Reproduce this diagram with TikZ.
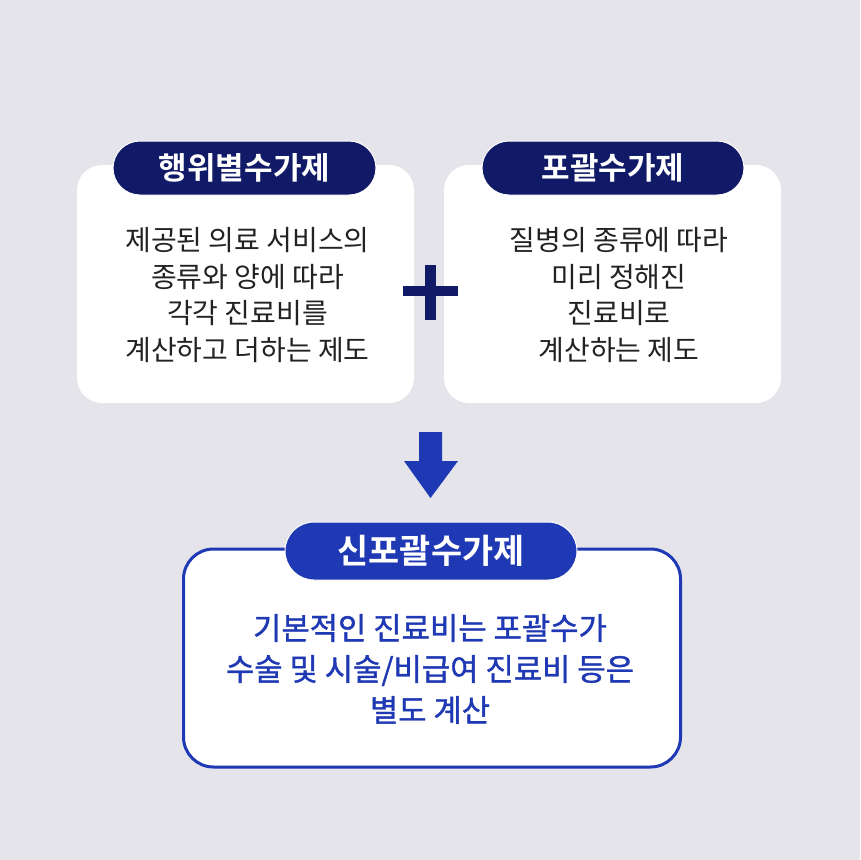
\documentclass[tikz,border=0pt]{standalone}
\usepackage{fontspec}
\setmainfont{Noto Sans CJK KR}
\newfontfamily\krb{Noto Sans CJK KR}[BoldFont=*, UprightFont=* Bold]
\newfontfamily\krm{Noto Sans CJK KR}[FakeBold=1.2]
\definecolor{bgc}{HTML}{E4E4EA}
\definecolor{navy}{HTML}{111A66}
\definecolor{blu}{HTML}{1F38B3}
\definecolor{txt}{HTML}{222222}
\begin{document}
\begin{tikzpicture}[x=1pt,y=-1pt,
  card/.style={fill=white, rounded corners=25pt, inner sep=0pt},
  pill/.style={rounded corners=27pt, draw=white, line width=1pt, inner sep=0pt, text=white},
  body/.style={align=center, text=txt, font=\fontsize{28}{36.5}\selectfont}
]
\fill[bgc] (0,0) rectangle (860,860);
\useasboundingbox (0,0) rectangle (860,860);

% left card
\node[card, minimum width=337pt, minimum height=238pt] (lcard) at (245.5,284) {};
\node[pill, fill=navy, minimum width=263pt, minimum height=54pt, font=\krb\fontsize{31}{33}\selectfont] (lpill) at (244.5,168) {행위별수가제};
\node[body] (ltext) at (247.5,295) {제공된 의료 서비스의\\종류와 양에 따라\\각각 진료비를\\계산하고 더하는 제도};

% right card
\node[card, minimum width=337pt, minimum height=238pt] (rcard) at (612.5,284) {};
\node[pill, fill=navy, minimum width=262pt, minimum height=54pt, font=\krb\fontsize{31}{33}\selectfont] (rpill) at (613,168) {포괄수가제};
\node[body] (rtext) at (619,295) {질병의 종류에 따라\\미리 정해진\\진료비로\\계산하는 제도};

% plus sign
\fill[navy] (403,286) rectangle (458,296);
\fill[navy] (425,265) rectangle (436,320);

% down arrow
\fill[blu] (419,432) -- (442,432) -- (442,461) -- (458,461) -- (430.5,498) -- (404,461) -- (419,461) -- cycle;

% bottom card
\node[draw=blu, line width=3pt, fill=white, rounded corners=30pt, minimum width=497pt, minimum height=218pt, inner sep=0pt] (bcard) at (432,658) {};
\node[pill, fill=blu, rounded corners=29pt, minimum width=292pt, minimum height=58pt, font=\krb\fontsize{33.8}{35}\selectfont] (bpill) at (431,551) {신포괄수가제};
\node[align=center, text=blu, font=\krm\fontsize{30.8}{41}\selectfont] (btext) at (430,669) {기본적인 진료비는 포괄수가\\수술 및 시술/비급여 진료비 등은\\별도 계산};
\end{tikzpicture}
\end{document}
